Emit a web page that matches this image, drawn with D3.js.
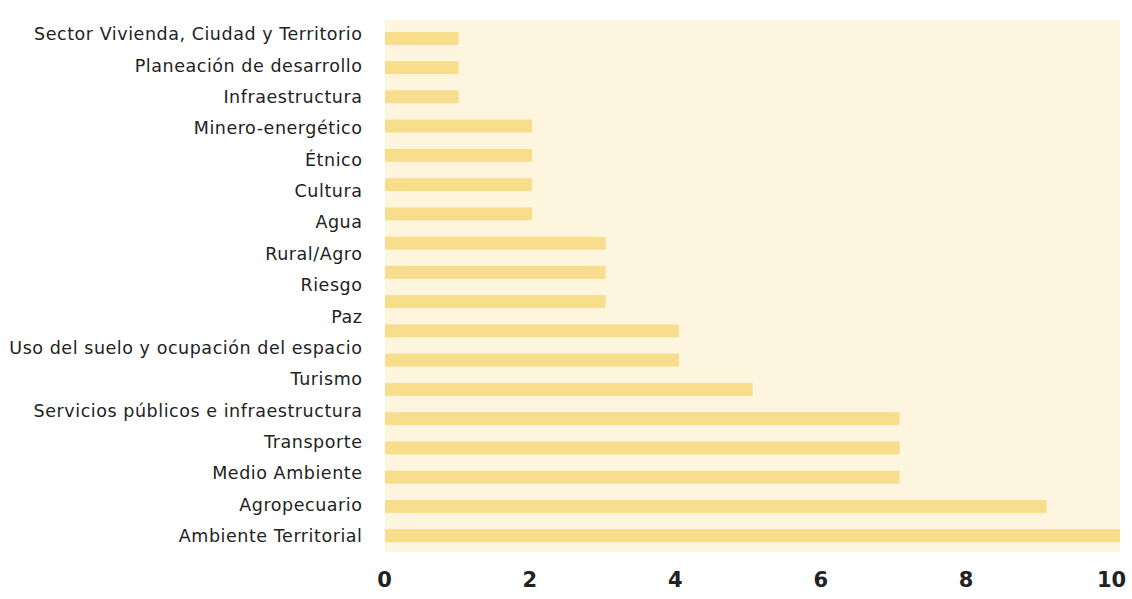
<!DOCTYPE html>
<html>
<head>
<meta charset="utf-8">
<script src="https://cdn.jsdelivr.net/npm/d3@7"></script>
<style>
  body { margin: 0; background: #fff; }
  text { font-family: "DejaVu Sans", sans-serif; }
</style>
</head>
<body>
<svg id="chart"></svg>
<script>
const width = 1132
const height = 599

// category labels, top to bottom
const categories = [
  'Sector Vivienda, Ciudad y Territorio',
  'Planeación de desarrollo',
  'Infraestructura',
  'Minero-energético',
  'Étnico',
  'Cultura',
  'Agua',
  'Rural/Agro',
  'Riesgo',
  'Paz',
  'Uso del suelo y ocupación del espacio',
  'Turismo',
  'Servicios públicos e infraestructura',
  'Transporte',
  'Medio Ambiente',
  'Agropecuario',
  'Ambiente Territorial'
]

// bar lengths as drawn, top to bottom (the picture has one bar more than labels)
const barValues = [1, 1, 1, 2, 2, 2, 2, 3, 3, 3, 4, 4, 5, 7, 7, 7, 9, 10]

const tickValues = [0, 2, 4, 6, 8, 10]

const margin = { left: 385, top: 20, right: 12, bottom: 46 }

const svg = d3.select('#chart')
  .attr('width', width)
  .attr('height', height)

const x = d3.scaleLinear()
  .domain([0, 10])
  .range([margin.left, width - margin.right])

// tick labels sit a little inside the bar scale in the picture
const xTicks = d3.scaleLinear()
  .domain([0, 10])
  .range([margin.left - 1, 1111])

const yBar = d3.scaleBand()
  .domain(d3.range(barValues.length))
  .range([margin.top + 9, height - margin.bottom - 8])
  .paddingInner(0.56)
  .paddingOuter(0.1)

const yLabel = d3.scalePoint()
  .domain(categories)
  .range([34, 536])

// panel
svg.append('rect')
  .attr('x', margin.left)
  .attr('y', margin.top)
  .attr('width', x(10) - margin.left)
  .attr('height', height - margin.bottom - margin.top - 1)
  .attr('fill', '#fdf5de')

svg.append('g')
  .selectAll('rect')
  .data(barValues)
  .join('rect')
  .attr('x', x(0))
  .attr('y', (d, i) => yBar(i))
  .attr('width', d => x(d) - x(0))
  .attr('height', yBar.bandwidth())
  .attr('fill', '#f8dd8c')

// category labels
svg.append('g')
  .selectAll('text')
  .data(categories)
  .join('text')
  .attr('x', 362.5)
  .attr('y', d => yLabel(d))
  .attr('dy', '0.35em')
  .attr('text-anchor', 'end')
  .attr('font-size', 17.5)
  .attr('letter-spacing', 0.55)
  .attr('fill', '#222')
  .text(d => d)

// x axis
const xAxis = g => g
  .attr('transform', `translate(0, ${height - 12})`)
  .call(d3.axisBottom(xTicks).tickValues(tickValues).tickSize(0).tickPadding(0))
  .call(g => g.select('.domain').remove())
  .call(g => g.selectAll('text')
    .attr('font-size', 21)
    .attr('font-weight', 700)
    .attr('fill', '#222')
    .attr('dy', 0)
    .style('font-family', '"DejaVu Sans", sans-serif'))

svg.append('g').call(xAxis)
</script>
</body>
</html>
